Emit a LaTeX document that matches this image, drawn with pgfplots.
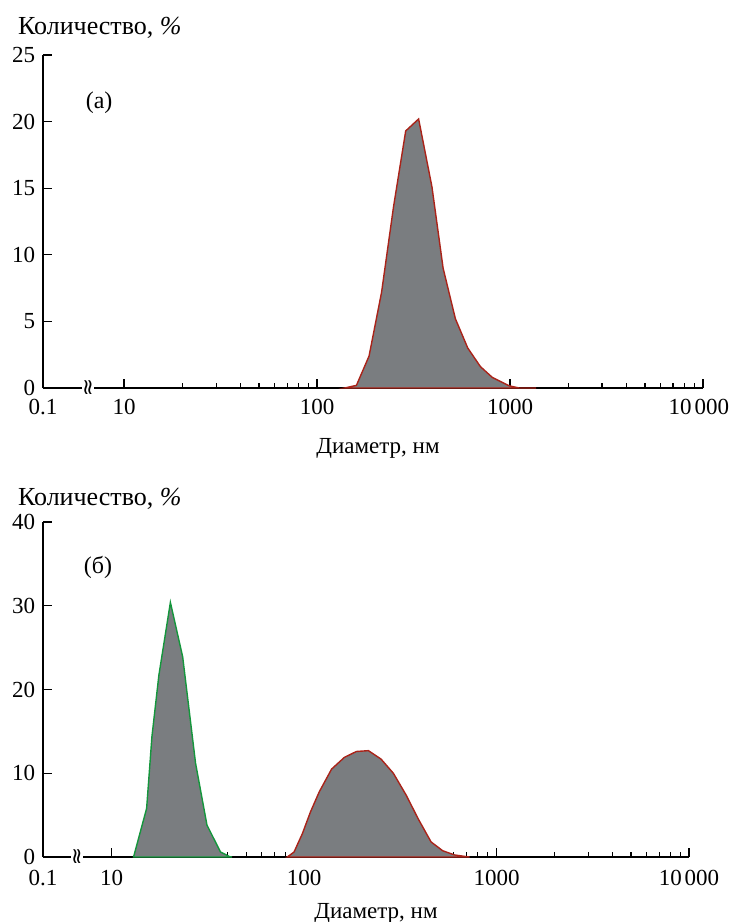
\documentclass[border=0pt]{standalone}
\usepackage{fontspec}
\setmainfont{Liberation Serif}
\newfontfamily\dejavu{DejaVu Sans}
\usepackage{pgfplots}
\pgfplotsset{compat=1.18}
\pgfkeys{/pgf/number format/assume math mode=true}

\definecolor{peakfill}{RGB}{122,125,128}
\definecolor{redline}{RGB}{170,35,25}
\definecolor{greenline}{RGB}{20,150,60}

\newcommand{\axisbreak}[1]{%
  \node[fill=white,inner xsep=0.3pt,inner ysep=0pt,font=\dejavu\fontsize{11}{11}\selectfont] at (axis cs:#1,0) {\kern-0.5pt≀\kern-2.2pt≀\kern-0.5pt};
}

\begin{document}
\begin{tikzpicture}
\useasboundingbox (0,0) rectangle (365.5pt,-461pt);

% (a)
\begin{semilogxaxis}[
  scale only axis,
  at={(21.5pt,-194pt)},anchor=south west,
  width=330pt,height=166.5pt,
  xmin=3.80,xmax=10000,ymin=0,ymax=25,
  axis x line=bottom,axis y line=left,
  axis line style={-,line width=0.75pt},
  tick align=inside,
  major tick length=4.5pt,minor tick length=2.6pt,
  tick style={black,line width=0.6pt},
  xtick={10,100,1000,10000},
  xticklabels={10,100,1000,10\kern1.5pt000\kern4pt},
  minor xtick={20,30,40,50,60,70,80,90,200,300,400,500,600,700,800,900,2000,3000,4000,5000,6000,7000,8000,9000},
  extra x ticks={3.80},extra x tick labels={0.1},
  extra x tick style={major tick length=0pt},
  ytick={0,5,10,15,20,25},
  tick label style={font=\fontsize{11.5}{13}\selectfont,inner sep=0pt},
  x tick label style={yshift=-5.5pt},
  y tick label style={xshift=-3.8pt},
  xlabel={Диаметр, нм},
  ylabel={Количество, \textit{\%}},
  xlabel style={font=\fontsize{11.5}{13}\selectfont,at={(axis description cs:0.5,0)},anchor=base,xshift=2.5pt,yshift=-32.5pt},
  ylabel style={font=\fontsize{13}{14}\selectfont,at={(axis description cs:0,1)},anchor=base west,rotate=-90,xshift=-16pt,yshift=10.5pt},
  clip=false,
]
\addplot[draw=redline,line width=0.7pt,fill=peakfill] coordinates {
 (139,0) (160,0.2) (186,2.4) (216,7.2) (249,13.6) (288,19.3) (336,20.2)
 (394,15.1) (450,9.0) (521,5.2) (604,3.0) (703,1.6) (809,0.8) (988,0.17)
 (1114,0) (1365,0)} \closedcycle;
\axisbreak{6.5}
\node[font=\fontsize{12}{13}\selectfont] at (rel axis cs:0.085,0.856) {(а)};
\end{semilogxaxis}

% (b)
\begin{semilogxaxis}[
  scale only axis,
  at={(21.5pt,-428.5pt)},anchor=south west,
  width=323pt,height=167.5pt,
  xmin=4.4,xmax=10000,ymin=0,ymax=40,
  axis x line=bottom,axis y line=left,
  axis line style={-,line width=0.75pt},
  tick align=inside,
  major tick length=4.5pt,minor tick length=2.6pt,
  tick style={black,line width=0.6pt},
  xtick={10,100,1000,10000},
  xticklabels={10,100,1000,10\kern1.5pt000},
  minor xtick={20,30,40,50,60,70,80,90,200,300,400,500,600,700,800,900,2000,3000,4000,5000,6000,7000,8000,9000},
  extra x ticks={4.4},extra x tick labels={0.1},
  extra x tick style={major tick length=0pt},
  ytick={0,10,20,30,40},
  tick label style={font=\fontsize{11.5}{13}\selectfont,inner sep=0pt},
  x tick label style={yshift=-6.5pt},
  y tick label style={xshift=-3.8pt},
  xlabel={Диаметр, нм},
  ylabel={Количество, \textit{\%}},
  xlabel style={font=\fontsize{11.5}{13}\selectfont,at={(axis description cs:0.5,0)},anchor=base,xshift=5pt,yshift=-30.5pt},
  ylabel style={font=\fontsize{13}{14}\selectfont,at={(axis description cs:0,1)},anchor=base west,rotate=-90,xshift=-16pt,yshift=8.5pt},
  clip=false,
]
\addplot[draw=greenline,line width=0.7pt,fill=peakfill] coordinates {
 (13.0,0) (15.2,5.8) (16.2,14.4) (17.6,21.7) (20.2,30.4) (23.4,23.9)
 (27.3,11.2) (31.3,3.8) (36.8,0.6) (41,0.05) (42.2,0)} \closedcycle;
\addplot[draw=redline,line width=0.7pt,fill=peakfill] coordinates {
 (81.8,0) (88.7,0.6) (98,2.8) (108,5.4) (120,7.8) (139,10.5) (162,11.9)
 (187,12.6) (216,12.7) (251,11.7) (291,10.0) (339,7.4) (393,4.5) (457,1.8)
 (525,0.75) (604,0.25) (695,0.05) (725,0)} \closedcycle;
\axisbreak{6.6}
\node[font=\fontsize{12}{13}\selectfont] at (rel axis cs:0.085,0.863) {(б)};
\end{semilogxaxis}
\end{tikzpicture}
\end{document}
